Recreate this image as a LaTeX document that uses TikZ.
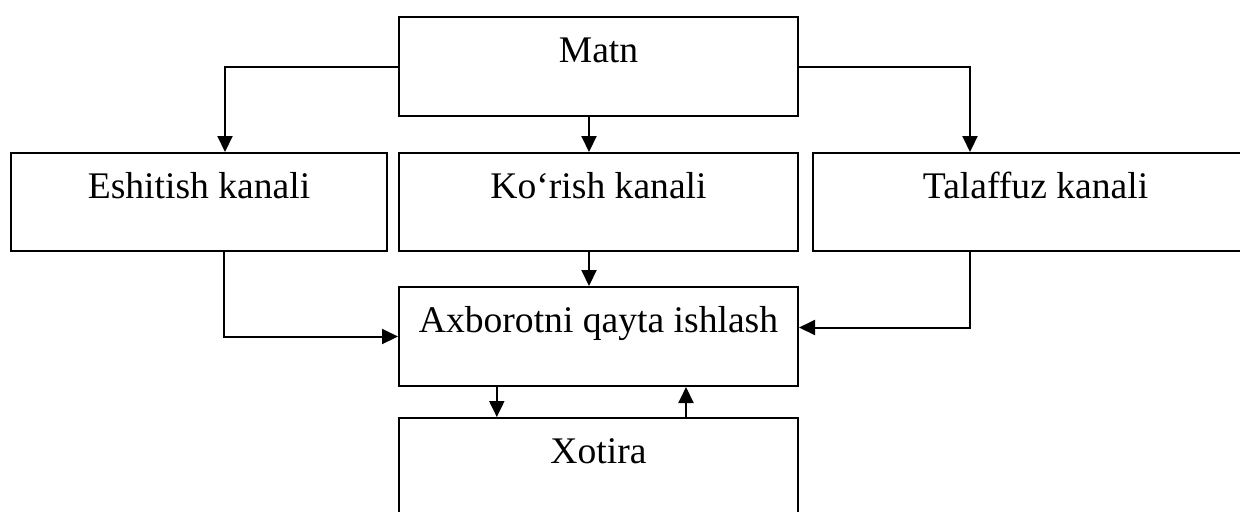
\documentclass[tikz,border=0pt]{standalone}
\usepackage{fontspec}
\setmainfont{Liberation Serif}
\usetikzlibrary{arrows.meta}
\begin{document}
\begin{tikzpicture}[x=0.5pt,y=-0.5pt,
  box/.style={draw, line width=1pt, anchor=north west, inner sep=0pt,
    text height=22.5pt, font=\fontsize{18.8pt}{22pt}\selectfont},
  arr/.style={line width=1pt, -{Triangle[length=8pt,width=7.5pt]}}]
\useasboundingbox (0,0) rectangle (1240,511);
\clip (0,0) rectangle (1240,511);
\node[box, minimum width=199.5pt, minimum height=49.5pt, text depth=27pt] (matn) at (398,16) {Matn};
\node[box, minimum width=188pt, minimum height=49pt, text depth=26.5pt] (eshitish) at (10,152) {Eshitish kanali};
\node[box, minimum width=199.5pt, minimum height=49pt, text depth=26.5pt] (korish) at (398,152) {Ko‘rish kanali};
\node[box, minimum width=222.5pt, minimum height=49pt, text depth=26.5pt] (talaffuz) at (812,152) {Talaffuz kanali};
\node[box, minimum width=199.5pt, minimum height=49.5pt, text depth=27pt] (axborot) at (398,286) {Axborotni qayta ishlash};
\node[box, minimum width=199.5pt, minimum height=49.5pt, text depth=27pt] (xotira) at (398,417) {Xotira};
\draw[arr] (matn.west) -| ([xshift=107.5pt]eshitish.north west);
\draw[arr] (matn.east) -| ([xshift=79pt]talaffuz.north west);
\draw[arr] ([xshift=-4.75pt]matn.south) -- ([xshift=-4.75pt]korish.north);
\draw[arr] ([xshift=-4.75pt]korish.south) -- ([xshift=-4.75pt]axborot.north);
\draw[arr] ([xshift=107pt]eshitish.south west) |- (axborot.west);
\draw[arr] ([xshift=79pt]talaffuz.south west) |- ([yshift=4.5pt]axborot.east);
\draw[arr] ([xshift=49.4pt]axborot.south west) -- ([xshift=49.4pt]xotira.north west);
\draw[arr] ([xshift=144pt]xotira.north west) -- ([xshift=144pt]axborot.south west);
\end{tikzpicture}
\end{document}
